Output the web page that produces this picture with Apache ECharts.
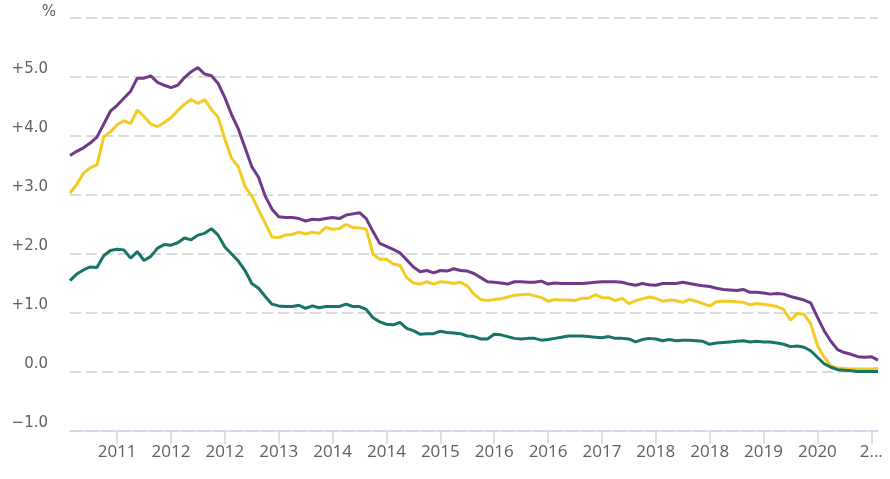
<!DOCTYPE html>
<html>
<head>
<meta charset="utf-8">
<script src="https://cdn.jsdelivr.net/npm/echarts@6/dist/echarts.min.js"></script>
<style>
html,body{margin:0;padding:0;background:#fff;}
#chart{width:890px;height:479px;}
</style>
</head>
<body>
<div id="chart"></div>
<script>
// Monthly categories (Nov 2010 – Nov 2020)
var startYear = 2010, startMonth = 11, nPoints = 121;
var categories = [];
for (var k = 0; k < nPoints; k++) {
  var m = startMonth - 1 + k;
  var y = startYear + Math.floor(m / 12);
  var mm = (m % 12) + 1;
  categories.push(y + '-' + (mm < 10 ? '0' + mm : mm));
}

var purpleSeries = [
  3.67,3.74,3.80,3.88,3.98,4.20,4.42,4.52,4.64,4.76,
  4.98,4.98,5.02,4.91,4.86,4.82,4.86,4.99,5.09,5.16,
  5.05,5.02,4.89,4.65,4.36,4.12,3.80,3.48,3.30,2.98,
  2.76,2.63,2.62,2.62,2.60,2.56,2.59,2.58,2.60,2.62,
  2.60,2.66,2.68,2.70,2.60,2.38,2.18,2.13,2.08,2.02,
  1.90,1.78,1.70,1.72,1.68,1.72,1.71,1.75,1.72,1.71,
  1.67,1.60,1.53,1.52,1.51,1.49,1.53,1.53,1.52,1.52,
  1.54,1.49,1.51,1.50,1.50,1.50,1.50,1.51,1.52,1.53,
  1.53,1.53,1.52,1.49,1.47,1.50,1.48,1.47,1.50,1.50,
  1.50,1.52,1.50,1.48,1.46,1.45,1.42,1.40,1.39,1.38,
  1.40,1.35,1.35,1.34,1.32,1.33,1.32,1.28,1.25,1.22,
  1.17,0.93,0.70,0.52,0.38,0.33,0.30,0.26,0.25,0.26,
  0.20
];
var yellowSeries = [
  3.03,3.18,3.37,3.46,3.51,3.98,4.07,4.19,4.26,4.21,
  4.44,4.33,4.20,4.16,4.23,4.31,4.43,4.54,4.62,4.55,
  4.62,4.45,4.32,3.95,3.62,3.48,3.14,2.98,2.75,2.52,
  2.29,2.28,2.32,2.33,2.37,2.34,2.37,2.35,2.45,2.42,
  2.43,2.50,2.45,2.44,2.42,2.00,1.91,1.91,1.83,1.81,
  1.60,1.51,1.49,1.53,1.49,1.53,1.52,1.50,1.52,1.46,
  1.32,1.23,1.21,1.23,1.24,1.27,1.30,1.31,1.32,1.29,
  1.26,1.20,1.23,1.22,1.22,1.21,1.25,1.25,1.31,1.26,
  1.26,1.21,1.25,1.16,1.21,1.24,1.27,1.25,1.20,1.22,
  1.21,1.18,1.23,1.20,1.16,1.12,1.19,1.20,1.20,1.19,
  1.18,1.14,1.16,1.15,1.13,1.11,1.06,0.88,0.99,0.98,
  0.82,0.45,0.25,0.10,0.07,0.06,0.05,0.05,0.05,0.05,
  0.06
];
var tealSeries = [
  1.55,1.66,1.73,1.78,1.77,1.97,2.06,2.08,2.07,1.93,
  2.04,1.89,1.96,2.10,2.16,2.15,2.19,2.27,2.24,2.32,
  2.35,2.43,2.32,2.12,2.00,1.88,1.72,1.50,1.42,1.28,
  1.15,1.12,1.11,1.11,1.13,1.08,1.12,1.09,1.11,1.11,
  1.11,1.15,1.11,1.11,1.06,0.92,0.85,0.81,0.80,0.84,
  0.74,0.70,0.64,0.65,0.65,0.69,0.67,0.66,0.65,0.61,
  0.60,0.56,0.56,0.64,0.63,0.60,0.57,0.56,0.57,0.57,
  0.54,0.55,0.57,0.59,0.61,0.61,0.61,0.60,0.59,0.58,
  0.60,0.57,0.57,0.56,0.51,0.55,0.57,0.56,0.53,0.55,
  0.53,0.54,0.54,0.53,0.52,0.47,0.49,0.50,0.51,0.52,
  0.53,0.51,0.52,0.51,0.51,0.49,0.47,0.43,0.44,0.42,
  0.36,0.25,0.14,0.08,0.04,0.03,0.02,0.01,0.01,0.01,
  0.01
];

var yMin = -1, yMax = 6, yStep = 1;
var labelEvery = 8, labelOffset = 7;
var truncatedIndex = 119;

var textColor = '#606060';
var font = 'DejaVu Sans';

function showTick(idx) { return idx % labelEvery === labelOffset; }

var chart = echarts.init(document.getElementById('chart'), null, {renderer: 'canvas'});
chart.setOption({
  animation: false,
  backgroundColor: '#ffffff',
  grid: {left: 70, right: 12, top: 18, bottom: 48, containLabel: false},
  xAxis: {
    type: 'category',
    boundaryGap: false,
    data: categories,
    z: 10,
    axisLine: {show: true, onZero: false, lineStyle: {color: '#ccd6eb', width: 1.5}},
    axisTick: {show: true, interval: function (i) { return showTick(i); }, length: 13, lineStyle: {color: '#ccd6eb', width: 1.5}},
    axisLabel: {
      interval: function (i) { return showTick(i); },
      color: textColor, fontFamily: 'Open Sans', fontSize: 17, margin: 13,
      formatter: function (v, i) {
        var yr = v.slice(0, 4);
        return i === truncatedIndex ? yr.slice(0, 1) + '...' : yr;
      }
    },
    splitLine: {show: false}
  },
  yAxis: {
    type: 'value',
    min: yMin, max: yMax, interval: yStep,
    name: '%',
    nameLocation: 'end',
    nameGap: -2,
    nameTextStyle: {color: textColor, fontFamily: font, fontSize: 15, align: 'right', verticalAlign: 'bottom', padding: [0, 14, 0, 0]},
    axisLine: {show: false},
    axisTick: {show: false},
    axisLabel: {
      color: textColor, fontFamily: font, fontSize: 15, margin: 22, verticalAlign: 'bottom',
      formatter: function (v) {
        if (v === yMax) return '';
        if (v > 0) return '+' + v.toFixed(1);
        if (v < 0) return '\u2212' + Math.abs(v).toFixed(1);
        return '0.0';
      }
    },
    splitLine: {
      show: true,
      lineStyle: {color: '#cfcfcf', width: 1.5, type: [11, 5]}
    }
  },
  series: [
    {name: 'purple', type: 'line', data: purpleSeries, showSymbol: false, symbol: 'none', lineStyle: {color: '#6f3a87', width: 3}, z: 3},
    {name: 'yellow', type: 'line', data: yellowSeries, showSymbol: false, symbol: 'none', lineStyle: {color: '#f3cb22', width: 3}, z: 4},
    {name: 'teal', type: 'line', data: tealSeries, showSymbol: false, symbol: 'none', lineStyle: {color: '#177466', width: 3}, z: 5}
  ]
});
</script>
</body>
</html>
